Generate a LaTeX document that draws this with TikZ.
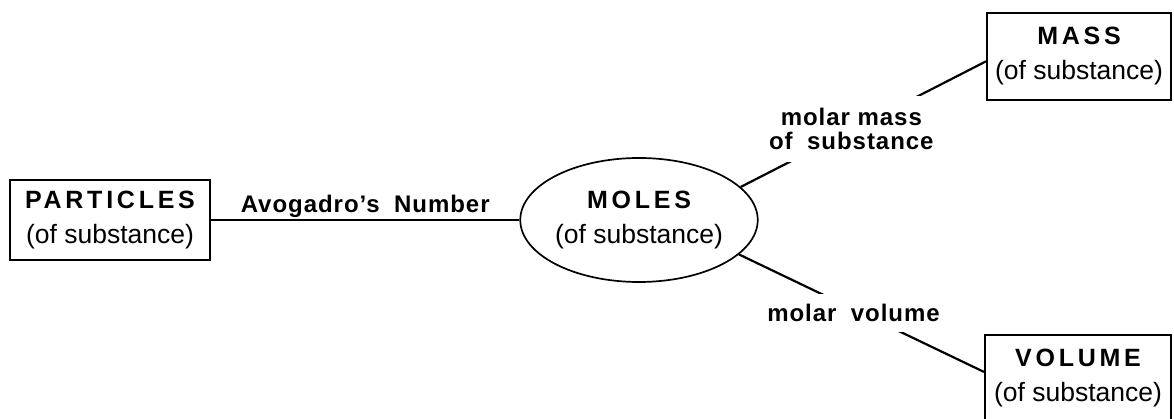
\documentclass[tikz,border=0pt]{standalone}
\usepackage{fontspec}
\setmainfont{Liberation Sans}
\newfontfamily\capsfont{Liberation Sans}[LetterSpace=15]
\newfontfamily\labfont{Liberation Sans}[LetterSpace=4]
\usetikzlibrary{shapes.geometric}
\newcommand\capt[1]{{\capsfont\bfseries\fontsize{25}{35}\selectfont #1}}
\newcommand\wsp{\hspace{0.6em}}
\tikzset{
  box/.style={draw, line width=2.1pt, rectangle, inner sep=0pt, align=center,
    font=\fontsize{26.5}{35}\selectfont},
  oval/.style={draw, line width=1.7pt, ellipse, inner sep=0pt, align=center,
    minimum width=222pt, minimum height=124pt, font=\fontsize{26.5}{35}\selectfont},
  link/.style={line width=2.2pt},
  lab/.style={font=\labfont\bfseries\fontsize{24}{24}\selectfont, fill=white,
    inner xsep=2pt, inner ysep=12pt, align=center}
}
\begin{document}
\begin{tikzpicture}[x=1pt,y=1pt]
\useasboundingbox[fill=white] (0,0) rectangle (1174,419);
\node[box, minimum width=200pt, minimum height=80pt] (particles) at (110,199)
  {\capt{PARTICLES}\\(of substance)};
\node[oval] (moles) at (639,199) {\capt{MOLES}\\(of substance)};
\node[box, minimum width=184pt, minimum height=87pt] (mass) at (1079,362.5)
  {\capt{MASS}\\(of substance)};
\node[box, minimum width=186pt, minimum height=87pt] (volume) at (1078,40.5)
  {\capt{VOLUME}\\(of substance)};
\draw[link] (particles.east) -- (moles.west)
  node[midway, anchor=base, yshift=7pt, font=\labfont\bfseries\fontsize{24}{24}\selectfont]
  (avo) {Avogadro’s\wsp Number};
\draw[link] (moles.18.8) -- (mass.183.4)
  node[lab, midway, xshift=-12pt, yshift=-5pt] (mm) {molar mass\\of\wsp substance};
\draw[link] (moles.-19) -- (volume.176)
  node[lab, midway, xshift=-8pt, inner ysep=10pt] (mv) {molar\wsp volume};
\end{tikzpicture}
\end{document}
